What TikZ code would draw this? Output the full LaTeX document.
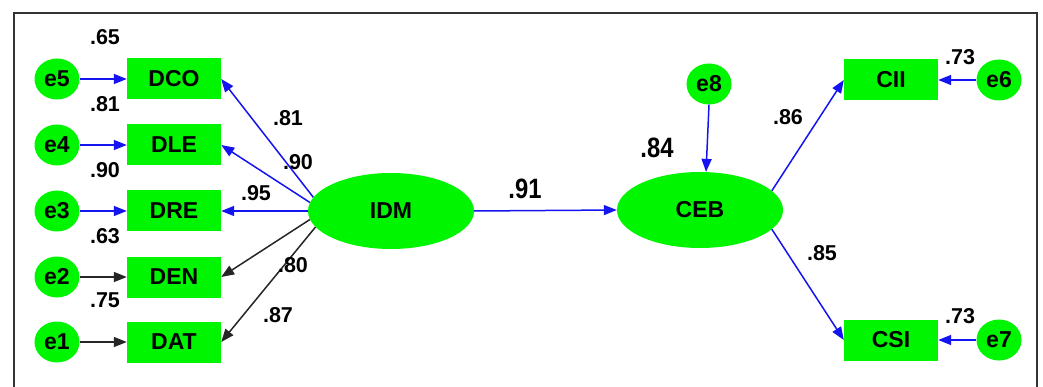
\documentclass[tikz,border=0pt]{standalone}
\usepackage{fontspec}
\setmainfont{Liberation Sans}
\usetikzlibrary{shapes.geometric,arrows.meta}
\definecolor{semgreen}{RGB}{0,245,0}
\definecolor{semblue}{RGB}{20,20,240}
\tikzset{
  obsbox/.style={draw=none,fill=semgreen,minimum width=94pt,minimum height=41pt,inner sep=0pt,font=\fontsize{23}{23}\selectfont\bfseries},
  errc/.style={ellipse,draw=none,fill=semgreen,minimum width=45pt,minimum height=41pt,inner sep=0pt,font=\fontsize{23}{23}\selectfont\bfseries},
  latent/.style={ellipse,draw=none,fill=semgreen,minimum width=166pt,minimum height=76pt,inner sep=0pt,font=\fontsize{23}{23}\selectfont\bfseries},
  bluearr/.style={draw=semblue,line width=1.5pt,-{Triangle[length=13pt,width=10pt]},color=semblue},
  blackarr/.style={draw=black!85,line width=1.5pt,-{Triangle[length=13pt,width=10pt]},color=black!85},
  coef/.style={font=\fontsize{21.5}{21.5}\selectfont\bfseries,inner sep=0pt},
  bigcoef/.style={font=\fontsize{28}{28}\selectfont\bfseries,inner sep=0pt},
}
\begin{document}
\begin{tikzpicture}[x=1pt,y=-1pt]
\useasboundingbox (0,0) rectangle (1043,387);
\fill[white] (0,0) rectangle (1043,387);
\draw[line width=2pt,black!80] (14,395) -- (14,13) -- (1037,13) -- (1037,395);
% observed
\node[obsbox] (DCO) at (174,79) {DCO};
\node[obsbox] (DLE) at (174,145) {DLE};
\node[obsbox] (DRE) at (174,211) {DRE};
\node[obsbox] (DEN) at (174,277) {DEN};
\node[obsbox] (DAT) at (174,342) {DAT};
\node[obsbox] (CII) at (891,80) {CII};
\node[obsbox] (CSI) at (891,340) {CSI};
% errors
\node[errc] (e5) at (57,79) {e5};
\node[errc] (e4) at (57,145) {e4};
\node[errc] (e3) at (57,211) {e3};
\node[errc] (e2) at (57,277) {e2};
\node[errc] (e1) at (57,342) {e1};
\node[errc] (e8) at (709,84) {e8};
\node[errc] (e6) at (999,80) {e6};
\node[errc] (e7) at (999,340) {e7};
% latents
\node[latent] (IDM) at (391,211) {IDM};
\node[latent] (CEB) at (700,210) {CEB};
% arrows
\draw[bluearr] (e5.east) -- (DCO.west);
\draw[bluearr] (e4.east) -- (DLE.west);
\draw[bluearr] (e3.east) -- (DRE.west);
\draw[blackarr] (e2.east) -- (DEN.west);
\draw[blackarr] (e1.east) -- (DAT.west);
\draw[bluearr] (IDM.170) -- (DCO.east);
\draw[bluearr] (IDM.174) -- (DLE.east);
\draw[bluearr] (IDM.west) -- (DRE.east);
\draw[blackarr] (IDM.186) -- (DEN.east);
\draw[blackarr] (IDM.192) -- (DAT.east);
\draw[bluearr] (IDM.east) -- (CEB.west);
\draw[bluearr] (e8.south) -- (CEB.81);
\draw[bluearr] (CEB.15) -- (CII.west);
\draw[bluearr] (CEB.-15) -- (CSI.west);
\draw[bluearr] (e6.west) -- (CII.east);
\draw[bluearr] (e7.west) -- (CSI.east);
% coefficients
\node[coef] (l65) at (105,37) {.65};
\node[coef] (l81a) at (105,104) {.81};
\node[coef] (l90a) at (105,170) {.90};
\node[coef] (l63) at (105,236) {.63};
\node[coef] (l75) at (105,300) {.75};
\node[coef] (l81b) at (288,118) {.81};
\node[coef] (l90b) at (298,162) {.90};
\node[coef] (l95) at (256,193) {.95};
\node[coef] (l80) at (293,265) {.80};
\node[coef] (l87) at (278,315) {.87};
\node[bigcoef] (l91) at (525,189) {\scalebox{0.85}[1]{.91}};
\node[bigcoef] (l84) at (657,148) {\scalebox{0.85}[1]{.84}};
\node[coef] (l86) at (788,117) {.86};
\node[coef] (l85) at (822,253) {.85};
\node[coef] (l73a) at (960,57) {.73};
\node[coef] (l73b) at (960,316) {.73};
\end{tikzpicture}
\end{document}
